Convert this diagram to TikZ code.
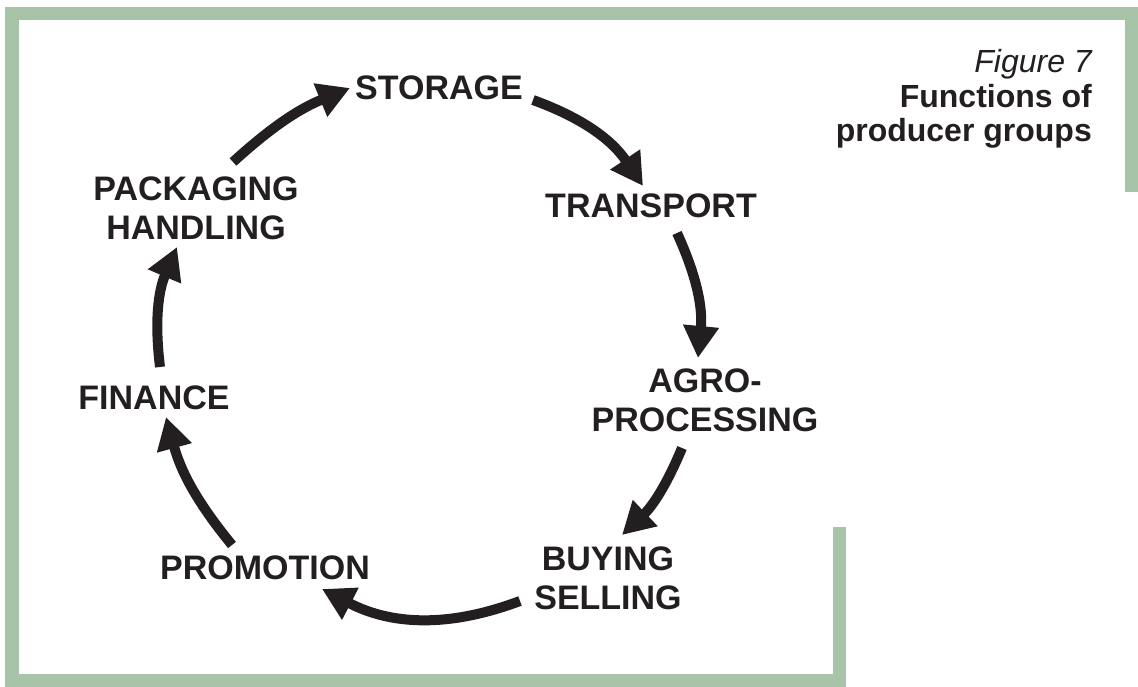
\documentclass[tikz,border=0pt]{standalone}
\usepackage{fontspec}
\setmainfont{Liberation Sans}
\usetikzlibrary{arrows.meta}
\definecolor{sage}{RGB}{167,196,169}
\definecolor{ink}{RGB}{35,31,32}
\begin{document}
\begin{tikzpicture}[x=1pt,y=-1pt,
  lbl/.style={font=\fontsize{34}{39}\selectfont\bfseries, text=ink, inner sep=0pt, align=center},
  flow/.style={draw=ink, line width=10pt, -{Triangle[length=32pt,width=34pt]}},
  ttl/.style={text=ink, inner sep=0pt, anchor=base east}]
\useasboundingbox (0,0) rectangle (1138,687);
\draw[sage, line width=13.5pt, line join=miter]
  (1131.5,192) -- (1131.5,13.5) -- (12,13.5) -- (12,680.5) -- (839.5,680.5) -- (839.5,527);

\node[lbl] (storage) at (439,88) {STORAGE};
\node[lbl] (transport) at (651,206) {TRANSPORT};
\node[lbl] (agro) at (705,400) {AGRO-\\PROCESSING};
\node[lbl] (buying) at (608,578) {BUYING\\SELLING};
\node[lbl] (promotion) at (265,568) {PROMOTION};
\node[lbl] (finance) at (154,398) {FINANCE};
\node[lbl] (packaging) at (196,208) {PACKAGING\\HANDLING};

\node[ttl, font=\fontsize{32}{34}\selectfont\itshape] (fig) at (1092,73) {Figure 7};
\node[ttl, font=\fontsize{32}{34}\selectfont\bfseries] (fn) at (1092,108) {Functions of};
\node[ttl, font=\fontsize{32}{34}\selectfont\bfseries] (pg) at (1092,142) {producer groups};

\coordinate (a1s) at (233,162); \coordinate (a1e) at (350,88);
\coordinate (a2s) at (533,100); \coordinate (a2e) at (643,186);
\coordinate (a3s) at (677,233); \coordinate (a3e) at (698,358);
\coordinate (a4s) at (682,448); \coordinate (a4e) at (622,535);
\coordinate (a5s) at (520,601); \coordinate (a5e) at (322,589);
\coordinate (a6s) at (232,545); \coordinate (a6e) at (166,417);
\coordinate (a7s) at (160,367); \coordinate (a7e) at (177,247);

\draw[flow] (a1s) to[bend left=10] (a1e);
\draw[flow] (a2s) to[bend left=18] (a2e);
\draw[flow] (a3s) to[bend left=15] (a3e);
\draw[flow] (a4s) to[bend left=12] (a4e);
\draw[flow] (a5s) to[bend left=24] (a5e);
\draw[flow] (a6s) to[bend left=12] (a6e);
\draw[flow] (a7s) to[bend left=15] (a7e);
\end{tikzpicture}
\end{document}
